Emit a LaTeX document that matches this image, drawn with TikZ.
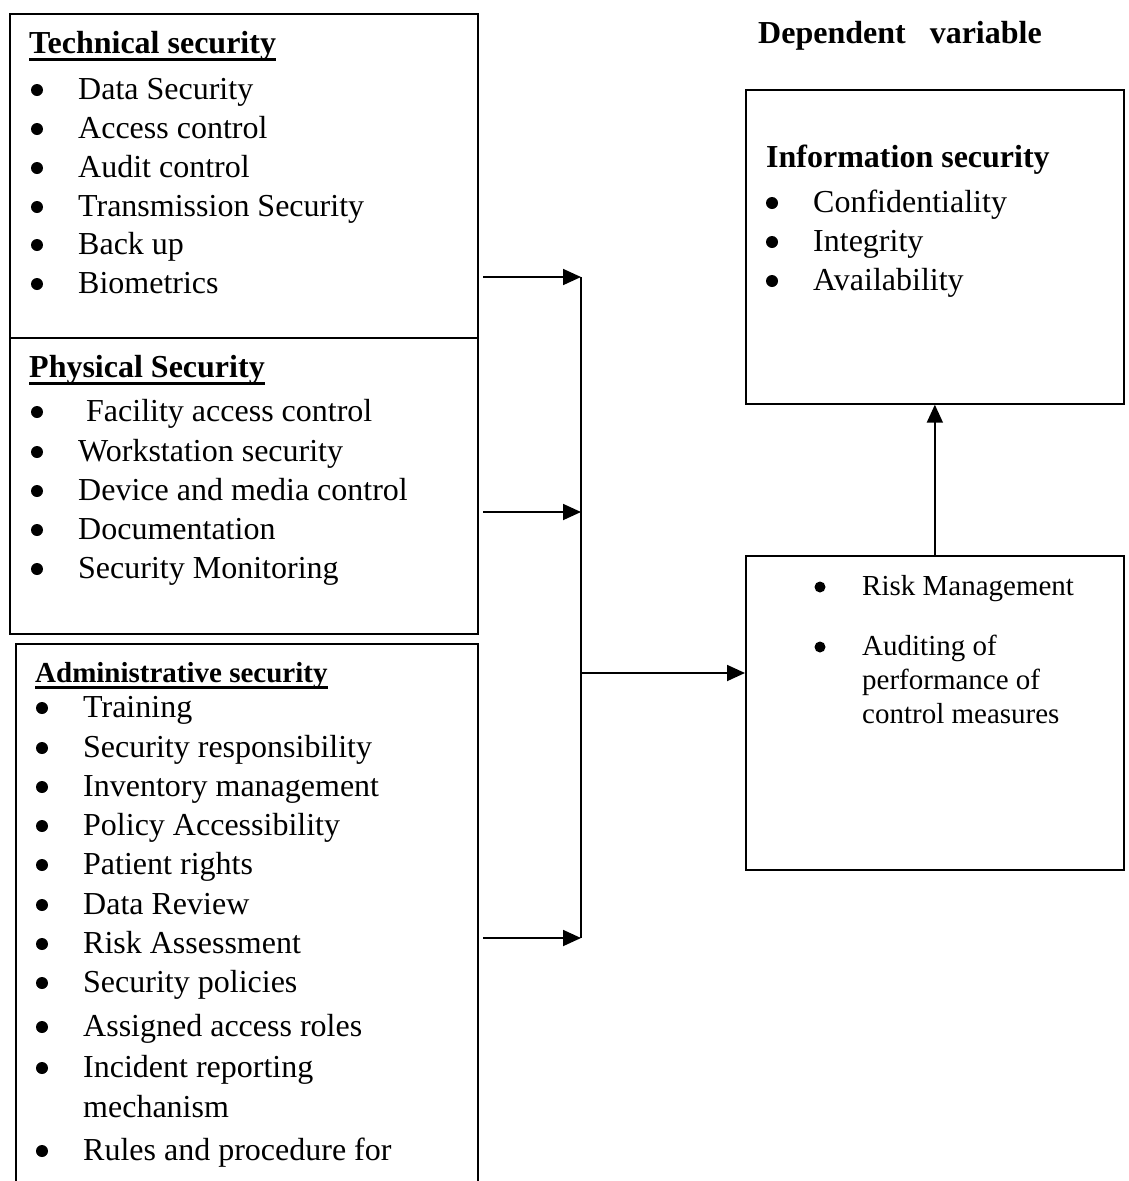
\documentclass[tikz,border=0pt]{standalone}
\usepackage{fontspec}
\setmainfont{Liberation Serif}
\usetikzlibrary{arrows.meta, positioning}

\newsavebox{\headbox}
\newcommand{\headtext}[1]{\sbox{\headbox}{\textbf{#1}}\rlap{\rule[-0.24em]{\wd\headbox}{0.09em}}\usebox{\headbox}}

\begin{document}
\begin{tikzpicture}[x=1pt, y=-1pt,
    panel/.style={draw, line width=1.7pt, anchor=north west, inner sep=0pt},
    head/.style={anchor=base west, inner sep=0pt, font=\fontsize{32}{39}\selectfont},
    item/.style={anchor=base west, inner sep=0pt, font=\fontsize{32}{39}\selectfont},
    smallitem/.style={item, font=\fontsize{29}{34}\selectfont},
    dot/.style={radius=6pt},
    arr/.style={line width=1.8pt, -{Triangle[length=18pt, width=16pt]}},
    bus/.style={line width=1.8pt},
]
  \useasboundingbox (0,0) rectangle (1128,1181);
  \clip (0,0) rectangle (1128,1181);

  % Boxes
  \node[panel, minimum width=468, minimum height=324] (tech) at (9,13) {};
  \node[panel, minimum width=468, minimum height=296] (phys) at (9,337) {};
  \node[panel, minimum width=462, minimum height=640] (admin) at (15,643) {};
  \node[panel, minimum width=378, minimum height=314] (info) at (745,89) {};
  \node[panel, minimum width=378, minimum height=314] (risk) at (745,555) {};

  % Headings
  \node[head] (dep) at (758,43) {\textbf{Dependent\ \ \ variable}};
  \node[head] (tech-head) at (29,53) {\headtext{Technical security}};
  \node[head] (phys-head) at (29,377) {\headtext{Physical Security}};
  \node[head, font=\fontsize{29}{34}\selectfont] (admin-head) at (35,682) {\headtext{Administrative security}};
  \node[head] (info-head) at (766,167) {\textbf{Information security}};

  % Technical security
  \foreach \y/\t [count=\i] in {99/Data Security, 138/Access control, 177/Audit control,
      216/Transmission Security, 254/Back up, 293/Biometrics} {
      \node[item] (tech-\i) at (78,\y) {\t};
      \fill[dot] (37,\y-9) circle;
  }
  % Physical security
  \foreach \y/\t [count=\i] in {421/\ Facility access control, 461/Workstation security,
      500/Device and media control, 539/Documentation, 578/Security Monitoring} {
      \node[item] (phys-\i) at (78,\y) {\t};
      \fill[dot] (37,\y-9) circle;
  }
  % Administrative security
  \foreach \y/\t [count=\i] in {717/Training, 757/Security responsibility, 796/Inventory management,
      835/Policy Accessibility, 874/Patient rights, 914/Data Review, 953/Risk Assessment,
      992/Security policies, 1036/Assigned access roles, 1077/Incident reporting,
      1160/Rules and procedure for} {
      \node[item] (admin-\i) at (83,\y) {\t};
      \fill[dot] (42,\y-9) circle;
  }
  \node[item] (admin-cont) at (83,1117) {mechanism};

  % Information security
  \foreach \y/\t [count=\i] in {212/Confidentiality, 251/Integrity, 290/Availability} {
      \node[item] (info-\i) at (813,\y) {\t};
      \fill[dot] (772,\y-9) circle;
  }
  % Risk box
  \node[smallitem] (risk-1) at (862,595) {Risk Management};
  \node[smallitem] (risk-2) at (862,655) {Auditing of};
  \node[smallitem] (risk-2b) at (862,689) {performance of};
  \node[smallitem] (risk-2c) at (862,723) {control measures};
  \foreach \y in {595,655}
      \fill[dot] (820,\y-8) circle[radius=5.5pt];

  % Connectors
  \coordinate (tech-out) at (483,277);
  \coordinate (phys-out) at (483,512);
  \coordinate (admin-out) at (483,938);
  \coordinate (bus-top) at (581,277);
  \coordinate (bus-mid) at (581,673);
  \coordinate (bus-bot) at (581,938);

  \draw[arr] (tech-out) -- (bus-top);
  \draw[arr] (phys-out) -- (phys-out -| bus-top);
  \draw[arr] (admin-out) -- (bus-bot);
  \draw[bus] (bus-top) -- (bus-bot);
  \draw[arr] (bus-mid) -- (bus-mid -| risk.west);
  \draw[arr] (risk.north) -- (info.south);
\end{tikzpicture}
\end{document}
